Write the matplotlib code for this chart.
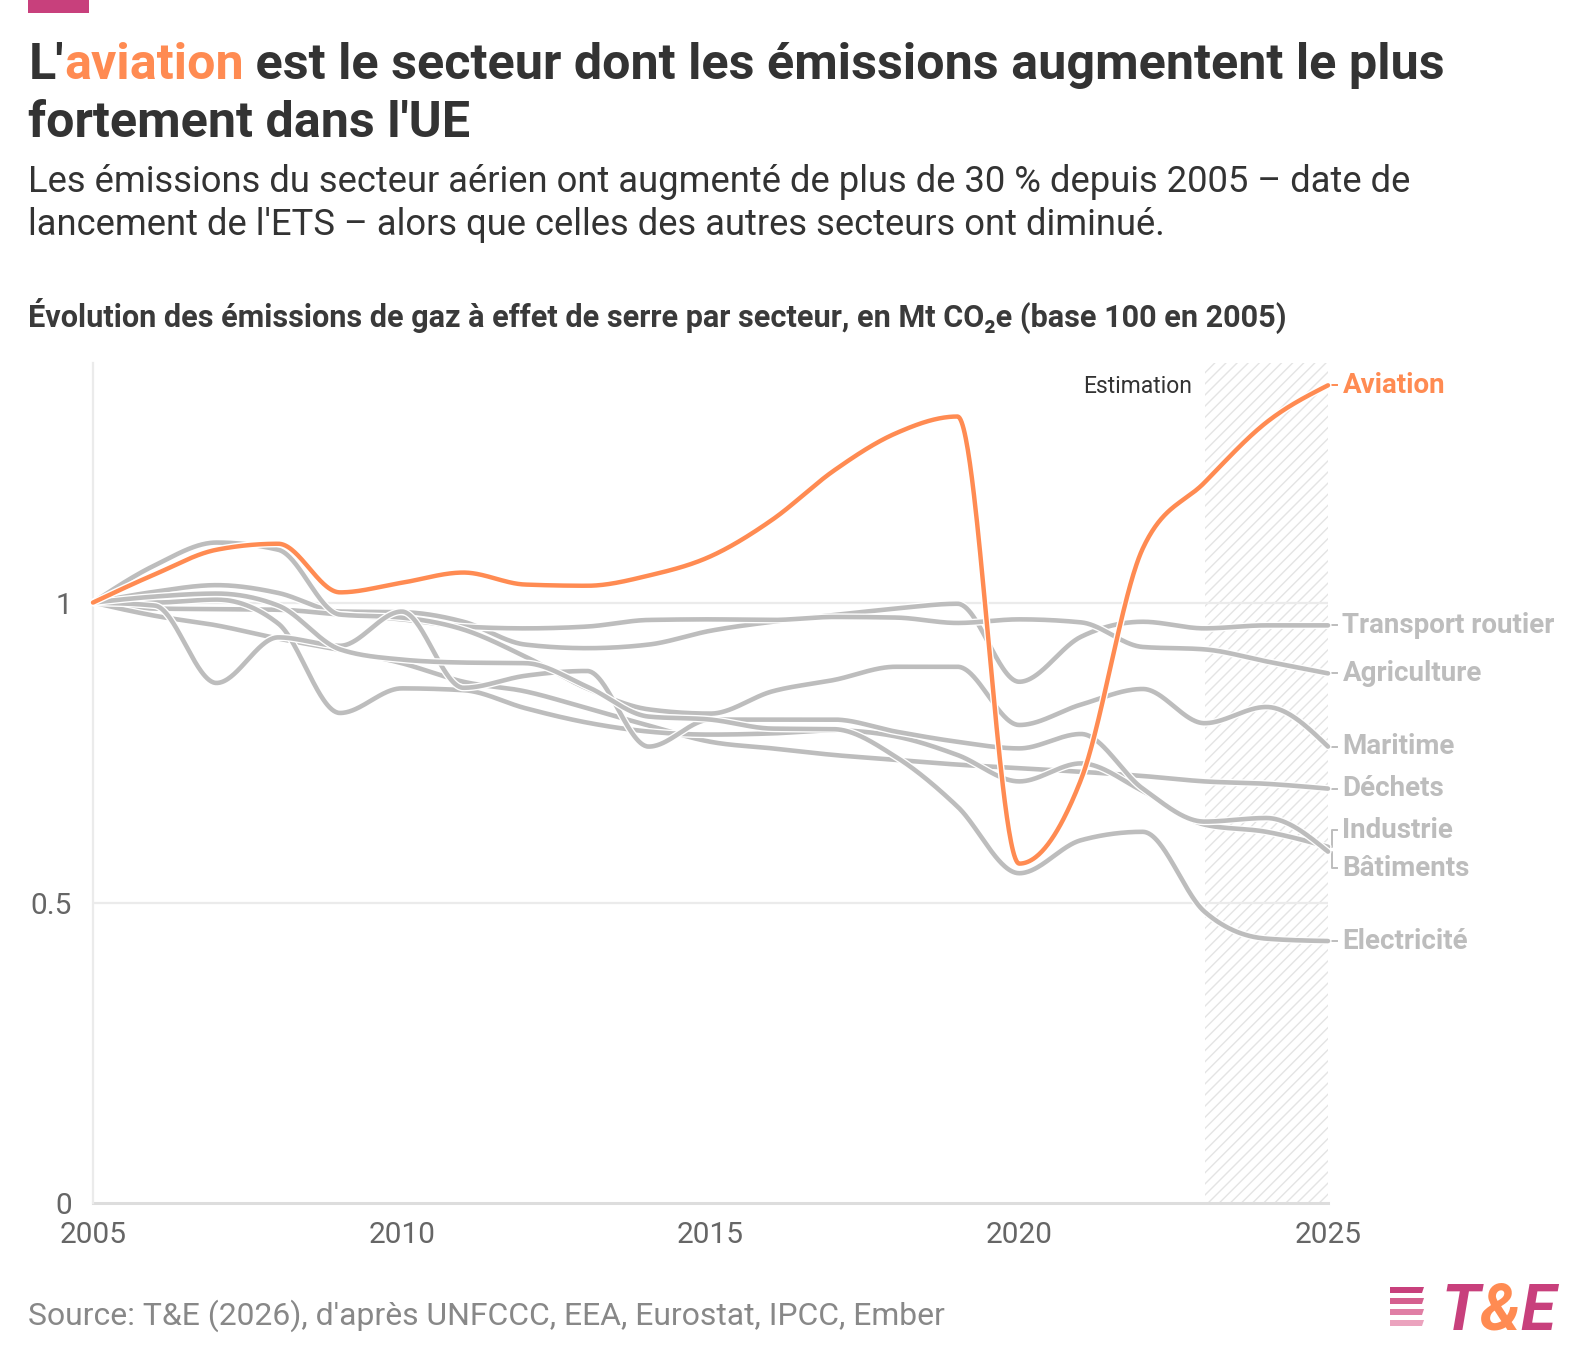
import numpy as np
import matplotlib
matplotlib.use("Agg")
import matplotlib.pyplot as plt
from matplotlib import patheffects as pe
from matplotlib.patches import Rectangle, Polygon

# ---------------- data (index, base 1 in 2005) ----------------
years = list(range(2005, 2026))
aviation = [1.0, 1.047, 1.088, 1.098, 1.017, 1.033, 1.05, 1.03, 1.028, 1.045, 1.077,
            1.138, 1.22, 1.282, 1.31, 0.565, 0.705, 1.09, 1.2, 1.30, 1.362]
transport_routier = [1.0, 1.018, 1.029, 1.016, 0.985, 0.984, 0.968, 0.93, 0.924, 0.93, 0.953,
                     0.968, 0.979, 0.99, 0.998, 0.868, 0.943, 0.968, 0.957, 0.962, 0.962]
agriculture = [1.0, 0.99, 0.989, 0.988, 0.98, 0.972, 0.96, 0.957, 0.96, 0.971, 0.972,
               0.971, 0.976, 0.975, 0.966, 0.972, 0.967, 0.926, 0.922, 0.902, 0.882]
maritime = [1.0, 1.062, 1.10, 1.088, 0.98, 0.975, 0.955, 0.91, 0.857, 0.822, 0.815,
            0.852, 0.871, 0.893, 0.893, 0.796, 0.83, 0.856, 0.799, 0.826, 0.76]
dechets = [1.0, 0.978, 0.962, 0.94, 0.921, 0.899, 0.868, 0.852, 0.824, 0.795, 0.768,
           0.757, 0.746, 0.738, 0.73, 0.724, 0.718, 0.711, 0.702, 0.698, 0.69]
industrie = [1.0, 1.0, 1.005, 0.965, 0.816, 0.857, 0.854, 0.824, 0.80, 0.785, 0.78,
             0.782, 0.787, 0.777, 0.746, 0.702, 0.732, 0.686, 0.63, 0.618, 0.593]
batiments = [1.0, 0.995, 0.866, 0.942, 0.928, 0.985, 0.858, 0.878, 0.886, 0.76, 0.805,
             0.805, 0.805, 0.785, 0.768, 0.757, 0.781, 0.69, 0.635, 0.641, 0.585]
electricite = [1.0, 1.01, 1.015, 0.995, 0.922, 0.905, 0.90, 0.899, 0.86, 0.81, 0.805,
               0.79, 0.789, 0.743, 0.66, 0.549, 0.604, 0.618, 0.485, 0.44, 0.436]

series_names = ["Aviation", "Transport routier", "Agriculture", "Maritime",
                "Déchets", "Industrie", "Bâtiments", "Electricité"]
series_values = [aviation, transport_routier, agriculture, maritime,
                 dechets, industrie, batiments, electricite]
estimate_start, estimate_end = 2023, 2025
y_ticks = [0, 0.5, 1]
y_tick_labels = ["0", "0.5", "1"]
x_ticks = [2005, 2010, 2015, 2020, 2025]

# ---------------- style ----------------
ORANGE = "#FF8B52"
GRAY = "#BDBDBD"
DARK = "#333333"
MAGENTA = "#C8407C"
W, H = 1588, 1368
FONT = ["Roboto", "DejaVu Sans"]
plt.rcParams["font.family"] = FONT
plt.rcParams["hatch.linewidth"] = 1.0


def monotone_curve(x, y, n=60):
    """d3 curveMonotoneX style interpolation for drawing."""
    x = np.asarray(x, float)
    y = np.asarray(y, float)
    h = np.diff(x)
    s = np.diff(y) / h
    m = np.zeros_like(y)
    for i in range(1, len(x) - 1):
        p = (s[i - 1] * h[i] + s[i] * h[i - 1]) / (h[i - 1] + h[i])
        m[i] = (np.sign(s[i - 1]) + np.sign(s[i])) * min(abs(s[i - 1]), abs(s[i]), 0.5 * abs(p))
    m[0] = (3 * s[0] - m[1]) / 2
    m[-1] = (3 * s[-1] - m[-2]) / 2
    xs, ys = [], []
    for i in range(len(x) - 1):
        t = np.linspace(0, 1, n, endpoint=(i == len(x) - 2))
        h00 = 2 * t**3 - 3 * t**2 + 1
        h10 = t**3 - 2 * t**2 + t
        h01 = -2 * t**3 + 3 * t**2
        h11 = t**3 - t**2
        xs.append(x[i] + t * h[i])
        ys.append(h00 * y[i] + h10 * h[i] * m[i] + h01 * y[i + 1] + h11 * h[i] * m[i + 1])
    return np.concatenate(xs), np.concatenate(ys)


fig = plt.figure(figsize=(W / 100, H / 100), dpi=100)
renderer = fig.canvas.get_renderer()


def fx(px):
    return px / W


def fy(py):
    return 1 - py / H


def fit(t, target_px):
    bb = t.get_window_extent(renderer)
    t.set_fontsize(t.get_fontsize() * target_px / bb.width)
    return t


# ---------------- axes ----------------
ax_left, ax_right, ax_top, ax_bottom = 93, 1328, 362.5, 1202.7
ax = fig.add_axes([fx(ax_left), fy(ax_bottom), (ax_right - ax_left) / W, (ax_bottom - ax_top) / H])
ax.set_xlim(2005, 2025)
ax.set_ylim(0, 1.4)
for sp in ["top", "right"]:
    ax.spines[sp].set_visible(False)
ax.spines["left"].set_color("#EBEBEB")
ax.spines["left"].set_linewidth(1.6)
ax.spines["bottom"].set_color("#DDDDDD")
ax.spines["bottom"].set_linewidth(2.2)
ax.spines["bottom"].set_zorder(1)
ax.set_yticks(y_ticks)
ax.set_yticklabels(y_tick_labels)
ax.set_xticks(x_ticks)
ax.set_xticklabels([str(v) for v in x_ticks])
ax.tick_params(axis="both", length=0, labelsize=21.5, colors="#666666")
ax.tick_params(axis="y", pad=15)
ax.tick_params(axis="x", pad=13)
for v in y_ticks[1:]:
    ax.axhline(v, color="#EBEBEB", lw=1.6, zorder=1)

# estimation zone
ax.axvspan(estimate_start, estimate_end, facecolor="none", edgecolor="#E4E4E4",
           hatch="///", lw=0, zorder=0.5)
ax.text(estimate_start - 0.2, 1.36, "Estimation", ha="right", va="center",
        fontsize=16.5, color="#333333")

# lines
halo = [pe.Stroke(linewidth=5.2, foreground="white"), pe.Normal()]
for name, vals in zip(series_names, series_values):
    xs, ys = monotone_curve(years, vals)
    if name == "Aviation":
        ax.plot(xs, ys, color=ORANGE, lw=3.2, zorder=6, clip_on=False,
                solid_capstyle="round", path_effects=halo)
    else:
        ax.plot(xs, ys, color=GRAY, lw=3.3, zorder=3, clip_on=False,
                solid_capstyle="round", path_effects=halo)

# right-hand labels with simple collision avoidance
ends = [vals[-1] for vals in series_values]
order = np.argsort(ends)[::-1]
min_gap = 0.064
label_y = {i: ends[i] for i in order}
changed = True
while changed:
    changed = False
    for a, b in zip(order[:-1], order[1:]):
        if label_y[a] - label_y[b] < min_gap - 1e-9:
            mid = (label_y[a] + label_y[b]) / 2
            label_y[a] = mid + min_gap / 2
            label_y[b] = mid - min_gap / 2
            changed = True

px_per_year = (ax_right - ax_left) / 20
for i, name in enumerate(series_names):
    end = ends[i]
    ly = label_y[i]
    col = ORANGE if name == "Aviation" else GRAY
    if abs(ly - end) < 1e-6:
        xl = [2025, 2025 + 9 / px_per_year]
        yl = [end, end]
    else:
        xa = 2025 + 4 / px_per_year
        xb = 2025 + 9 / px_per_year
        yl = [end, end, ly, ly]
        xl = [2025, xa, xa, xb]
    ax.plot(xl, yl, color=col, lw=1.4, clip_on=False, zorder=2)
    ax.text(2025 + 14.5 / px_per_year, ly, name, ha="left", va="center",
            fontsize=20, fontweight="bold", color=col, clip_on=False)

# ---------------- header ----------------
fig.patches.append(Rectangle((fx(28.4), fy(13.2)), (89.1 - 28.4) / W, 13.2 / H,
                             transform=fig.transFigure, facecolor=MAGENTA, edgecolor="none"))

x0 = fx(28.4)
probe = fig.text(x0, fy(79), "L'aviation est le secteur dont les émissions augmentent le plus",
                 fontsize=30, fontweight="bold")
fit(probe, 1414.6)
tsize = probe.get_fontsize()
probe.remove()
parts = [("L'", DARK), ("aviation", ORANGE), (" est le secteur dont les émissions augmentent le plus", DARK)]
prefix = ""
for txt, col in parts:
    if prefix:
        tmp = fig.text(x0, fy(79), prefix, fontsize=tsize, fontweight="bold")
        wpx = tmp.get_window_extent(renderer).width
        tmp.remove()
    else:
        wpx = 0
    fig.text(x0 + wpx / W, fy(79), txt, fontsize=tsize, fontweight="bold", color=col, va="baseline")
    prefix += txt
fig.text(x0, fy(136.7), "fortement dans l'UE", fontsize=tsize, fontweight="bold",
         color=DARK, va="baseline")

sub1 = fig.text(x0, fy(192.4), "Les émissions du secteur aérien ont augmenté de plus de 30 % depuis 2005 – date de",
                fontsize=22, color=DARK, va="baseline")
fit(sub1, 1384)
fig.text(x0, fy(235), "lancement de l'ETS – alors que celles des autres secteurs ont diminué.",
         fontsize=sub1.get_fontsize(), color=DARK, va="baseline")

ct = fig.text(x0, fy(327), "Évolution des émissions de gaz à effet de serre par secteur, en Mt CO₂e (base 100 en 2005)",
              fontsize=17, fontweight="bold", color="#3A3A3A", va="baseline")
fit(ct, 1260)

src = fig.text(x0, fy(1324.5), "Source: T&E (2026), d'après UNFCCC, EEA, Eurostat, IPCC, Ember",
               fontsize=17, color="#888888", va="baseline")
fit(src, 921.5)

# ---------------- logo ----------------
lx, lb = 1441, 1330
logo_parts = [("T", MAGENTA), ("&", ORANGE), ("E", MAGENTA)]
lsize = 46
pref = ""
for txt, col in logo_parts:
    if pref:
        tmp = fig.text(fx(lx), fy(lb), pref, fontsize=lsize, fontweight="bold", style="italic")
        wpx = tmp.get_window_extent(renderer).width
        tmp.remove()
    else:
        wpx = 0
    fig.text(fx(lx) + wpx / W, fy(lb), txt, fontsize=lsize, fontweight="bold",
             style="italic", color=col, va="baseline")
    pref += txt
stripe_cols = ["#C8407C", "#D5608F", "#E07FA5", "#EBA3BE"]
for k, c in enumerate(stripe_cols):
    top = 1287 + k * 11
    fig.patches.append(Polygon([(fx(1390), fy(top)), (fx(1424), fy(top)),
                                (fx(1422), fy(top + 6)), (fx(1390), fy(top + 6))],
                               closed=True, transform=fig.transFigure,
                               facecolor=c, edgecolor="none"))

fig.savefig("out.png", dpi=100, facecolor="white")
